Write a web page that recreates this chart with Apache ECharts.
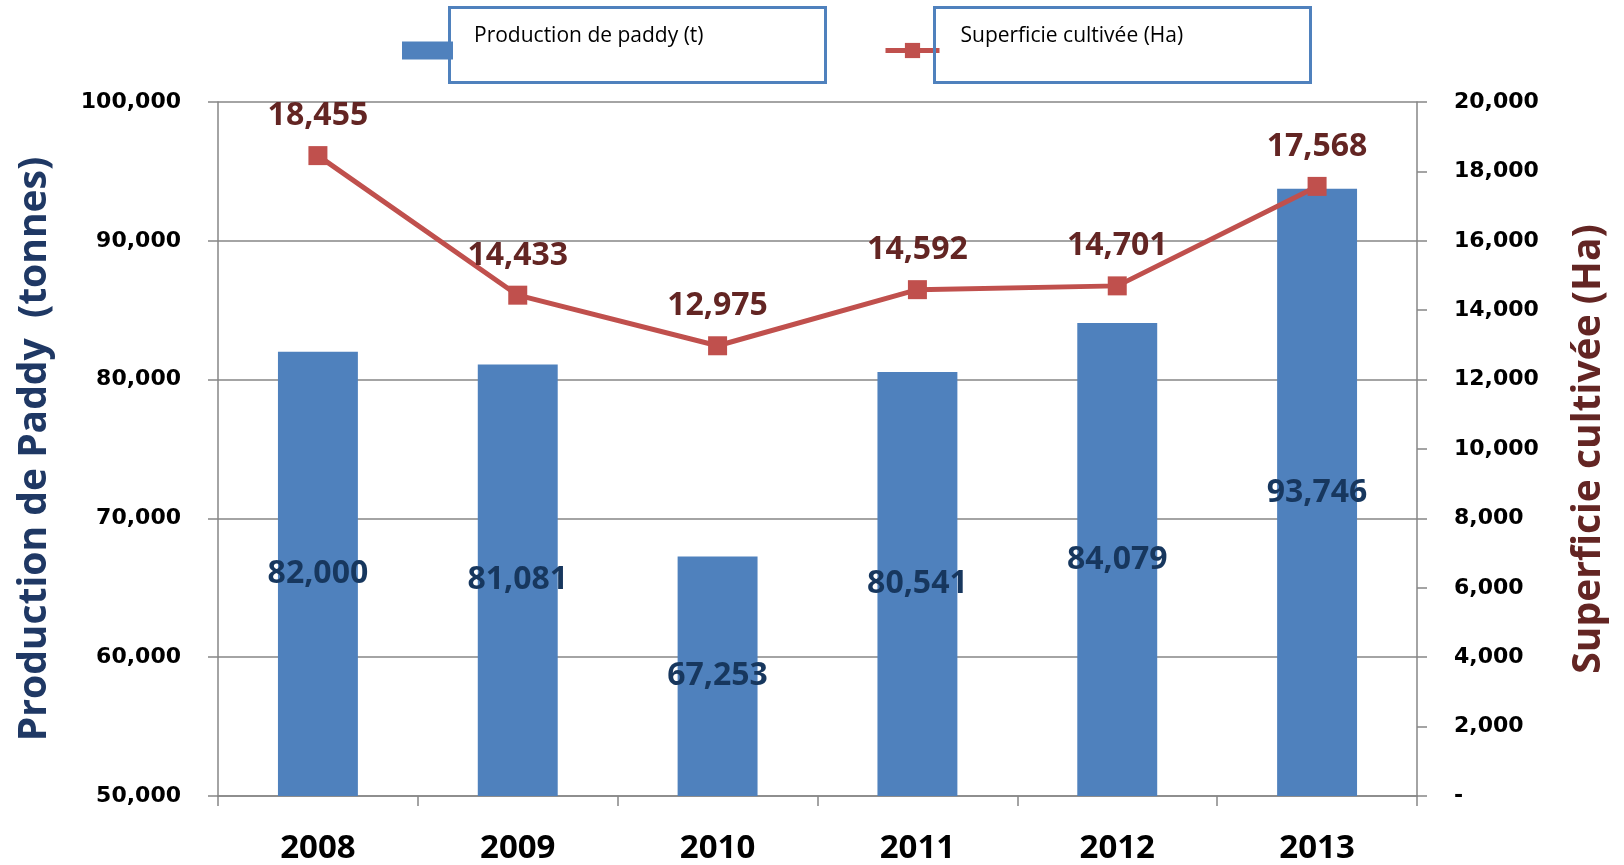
<!DOCTYPE html>
<html>
<head>
<meta charset="utf-8">
<title>Production de paddy</title>
<script src="https://cdn.jsdelivr.net/npm/echarts@6/dist/echarts.min.js"></script>
<style>
  html, body { margin: 0; padding: 0; background: #fff; }
  #chart { width: 1624px; height: 865px; }
</style>
</head>
<body>
<div id="chart"></div>
<script>
// données
var years = ['2008', '2009', '2010', '2011', '2012', '2013'];
var production = [82000, 81081, 67253, 80541, 84079, 93746];   // tonnes
var superficie = [18455, 14433, 12975, 14592, 14701, 17568];   // Ha
var prodName = 'Production de paddy (t)';
var surfName = 'Superficie cultivée (Ha)';

function fmt(v) {
    return Number(v).toLocaleString('en-US');
}

// texte de légende remonté au-dessus de l'icône
function legendText(name) {
    return '{t|' + name + '}';
}
var legendRich = {
    t: { fontFamily: 'Open Sans', fontSize: 21, color: '#000', padding: [0, 0, 28, 16] }
};

var myChart = echarts.init(document.getElementById('chart'));
var option = {
    animation: false,
    color: ['#4F81BD', '#C0504D'],
    textStyle: { fontFamily: 'Open Sans' },
    grid: {
        left: 218,
        right: 207,
        top: 102,
        bottom: 63
    },
    // deux légendes séparées, chacune dans son cadre
    legend: [
        {
            data: [{ name: prodName, icon: 'rect' }],
            left: 397,
            top: 21,
            itemWidth: 51,
            itemHeight: 18,
            formatter: legendText,
            textStyle: { rich: legendRich }
        },
        {
            data: [surfName],
            left: 878,
            top: 21,
            itemWidth: 54,
            itemHeight: 19,
            lineStyle: { width: 5 },
            formatter: legendText,
            textStyle: { rich: legendRich }
        }
    ],
    graphic: [
        {
            type: 'rect',
            left: 447, top: 5,
            shape: { width: 376, height: 75 },
            style: { fill: 'none', stroke: '#4F81BD', lineWidth: 3 },
            z: 100
        },
        {
            type: 'rect',
            left: 932, top: 5,
            shape: { width: 376, height: 75 },
            style: { fill: 'none', stroke: '#4F81BD', lineWidth: 3 },
            z: 100
        }
    ],
    xAxis: [{
        type: 'category',
        data: years,
        boundaryGap: true,
        axisLine: { lineStyle: { color: '#868686', width: 1.5 } },
        axisTick: { show: true, length: 10, lineStyle: { color: '#868686', width: 1.5 } },
        axisLabel: {
            margin: 36,
            fontFamily: 'Open Sans',
            fontWeight: 'bold',
            fontSize: 33,
            color: '#000'
        }
    }],
    yAxis: [
        {
            type: 'value',
            min: 50000,
            max: 100000,
            interval: 10000,
            name: 'Production de Paddy  (tonnes)',
            nameLocation: 'middle',
            nameGap: 164,
            nameTextStyle: {
                fontFamily: 'Open Sans',
                fontWeight: 'bold',
                fontSize: 39,
                color: '#1F3864'
            },
            axisLine: { show: true, lineStyle: { color: '#868686', width: 1.5 } },
            axisTick: { show: true, length: 10, lineStyle: { color: '#868686', width: 1.5 } },
            splitLine: { show: true, lineStyle: { color: '#868686', width: 1.5 } },
            axisLabel: {
                margin: 37,
                fontFamily: 'DejaVu Sans',
                fontWeight: 'bold',
                fontSize: 22,
                color: '#000',
                formatter: fmt
            }
        },
        {
            type: 'value',
            min: 0,
            max: 20000,
            interval: 2000,
            name: 'Superficie cultivée (Ha)',
            nameLocation: 'middle',
            nameGap: 152,
            nameRotate: 90,
            nameTextStyle: {
                fontFamily: 'Open Sans',
                fontWeight: 'bold',
                fontSize: 39,
                color: '#632523'
            },
            axisLine: { show: true, lineStyle: { color: '#868686', width: 1.5 } },
            axisTick: { show: true, length: 10, lineStyle: { color: '#868686', width: 1.5 } },
            splitLine: { show: false },
            axisLabel: {
                margin: 37,
                fontFamily: 'DejaVu Sans',
                fontWeight: 'bold',
                fontSize: 22,
                color: '#000',
                formatter: function (v) { return v === 0 ? '-' : fmt(v); }
            }
        }
    ],
    series: [
        {
            name: prodName,
            type: 'bar',
            yAxisIndex: 0,
            barWidth: '40%',
            data: production,
            itemStyle: { color: '#4F81BD' },
            label: {
                show: true,
                position: 'inside',
                fontFamily: 'Open Sans',
                fontWeight: 'bold',
                fontSize: 32,
                color: '#17375E',
                formatter: function (p) { return fmt(p.value); }
            }
        },
        {
            name: surfName,
            type: 'line',
            yAxisIndex: 1,
            data: superficie,
            symbol: 'rect',
            symbolSize: 19,
            lineStyle: { color: '#C0504D', width: 5 },
            itemStyle: { color: '#C0504D' },
            label: {
                show: true,
                position: 'top',
                distance: 14,
                fontFamily: 'Open Sans',
                fontWeight: 'bold',
                fontSize: 32,
                color: '#632523',
                formatter: function (p) { return fmt(p.value); }
            }
        }
    ]
};
myChart.setOption(option);
</script>
</body>
</html>
